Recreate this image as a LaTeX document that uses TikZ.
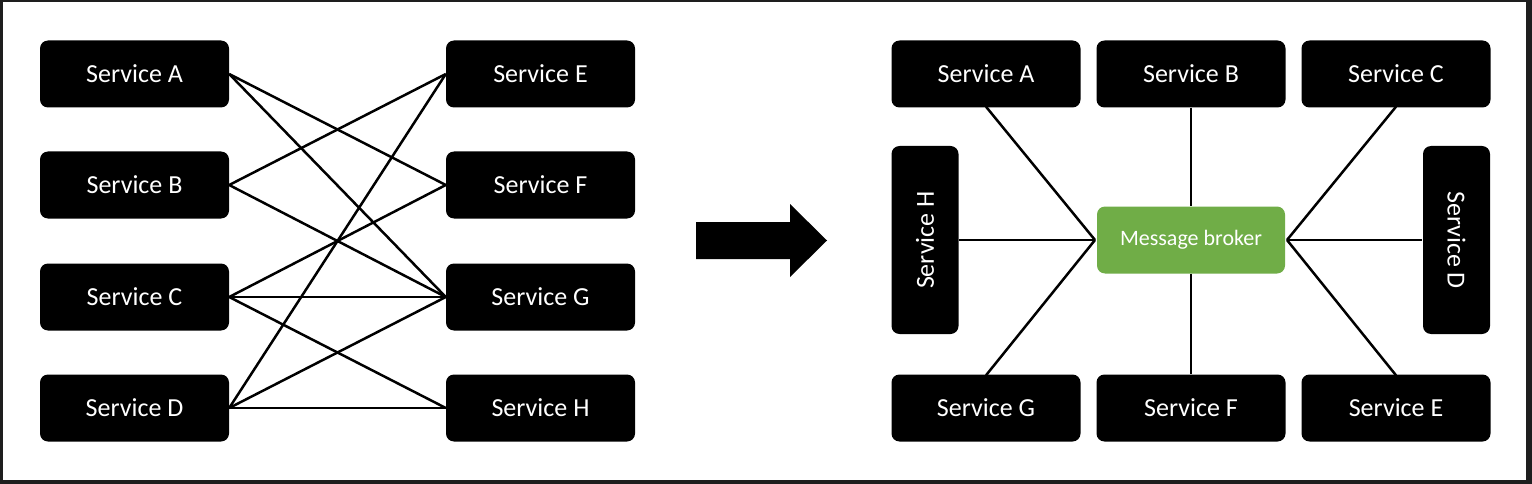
\documentclass[tikz,border=0pt]{standalone}
\usepackage{fontspec}
\setmainfont{Carlito}
\definecolor{frame}{HTML}{1E1E1E}
\definecolor{broker}{HTML}{70AD47}
\tikzset{
  svc/.style={draw=none, fill=black, text=white, rounded corners=8pt, inner sep=0pt,
    minimum width=189pt, minimum height=67pt, font=\fontsize{26}{30}\selectfont},
  vsvc/.style={svc, minimum width=188pt, minimum height=67pt},
  brk/.style={fill=broker, text=white, rounded corners=8pt, inner sep=0pt,
    minimum width=188pt, minimum height=67pt, font=\fontsize{22}{26}\selectfont},
  link/.style={draw=black, line width=2.5pt},
}
\begin{document}
\begin{tikzpicture}[x=1pt,y=-1pt]
\fill[frame] (0,0) rectangle (1532,484);
\fill[white] (3,2) rectangle (1526,480);
\useasboundingbox (0,0) rectangle (1532,484);
% left part
\node[svc] (lA) at (134.5,74) {Service A};
\node[svc] (lB) at (134.5,185) {Service B};
\node[svc] (lC) at (134.5,297) {Service C};
\node[svc] (lD) at (134.5,408) {Service D};
\node[svc] (lE) at (540.5,74) {Service E};
\node[svc] (lF) at (540.5,185) {Service F};
\node[svc] (lG) at (540.5,297) {Service G};
\node[svc] (lH) at (540.5,408) {Service H};
\foreach \a/\b in {A/F,A/G,B/E,B/G,C/F,C/G,C/H,D/E,D/G,D/H}
  \draw[link] (l\a.east) -- (l\b.west);
% arrow
\fill[black] (696,222) -- (790,222) -- (790,204) -- (827,240.5) -- (790,277) -- (790,259) -- (696,259) -- cycle;
% right part
\node[svc] (rA) at (986,74) {Service A};
\node[svc] (rB) at (1191,74) {Service B};
\node[svc] (rC) at (1396,74) {Service C};
\node[svc] (rG) at (986,408) {Service G};
\node[svc] (rF) at (1191,408) {Service F};
\node[svc] (rE) at (1396,408) {Service E};
\node[vsvc, rotate=90] (rH) at (925,240) {Service H};
\node[vsvc, rotate=-90] (rD) at (1456.5,240) {Service D};
\node[brk] (mb) at (1191,240) {Message broker};
\coordinate (mw) at (1095,240);
\coordinate (me) at (1287,240);
\draw[link] (mw) -- ([yshift=1pt]rA.south);
\draw[link] (mw) -- ([yshift=-1pt]rG.north);
\draw[link] (mw) -- (rH.south);
\draw[link] (me) -- ([yshift=1pt]rC.south);
\draw[link] (me) -- ([yshift=-1pt]rE.north);
\draw[link] (me) -- ([xshift=-1pt]rD.south);
\draw[link] (rB.south) -- (mb.north);
\draw[link] (mb.south) -- (rF.north);
\end{tikzpicture}
\end{document}
